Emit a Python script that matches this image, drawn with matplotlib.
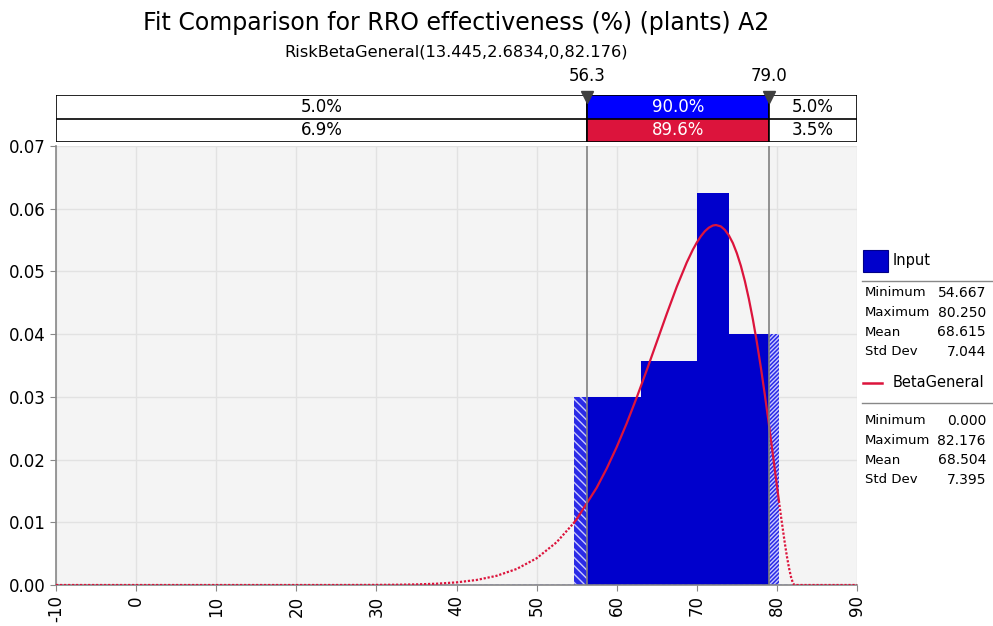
import matplotlib.pyplot as plt
import numpy as np

# histogram of the input (equal-probability bins, density)
bin_edges = [54.667, 63.0, 70.0, 74.0, 80.25]
bin_density = [0.030, 0.0357, 0.0625, 0.040]

# fitted BetaGeneral density
fit_x = [-10, 0, 10, 20, 25, 30, 32.5, 35, 37.5, 40, 42.5, 45, 47.5, 50, 52.5,
         54.667, 55, 57.5, 58.75, 60, 61.25, 62.5, 63.75, 65, 66.25, 67.5, 68.75,
         69.5, 70, 70.5, 71, 71.5, 72, 72.4, 73, 73.5, 74, 74.5, 75, 75.5,
         76, 76.5, 77, 77.5, 78, 78.5, 79, 79.5, 80, 80.25, 80.5, 81, 81.25,
         81.5, 81.75, 82, 82.176, 90]
fit_pdf = [0, 0, 0, 0, 0.000002, 0.000017, 0.000042, 0.000096, 0.000206, 0.000418,
           0.000801, 0.001464, 0.00255, 0.004257, 0.006819,
           0.009929, 0.010493, 0.015508, 0.01857, 0.021998, 0.02579, 0.029897, 0.03425,
           0.038747, 0.04324, 0.047559, 0.05144,
           0.05345, 0.054605, 0.0556, 0.0564, 0.05697, 0.05732, 0.0574, 0.05718, 0.05663,
           0.05575, 0.05453, 0.05290, 0.0509,
           0.04847, 0.04562, 0.04236, 0.0387, 0.03466, 0.03027, 0.02562, 0.02076, 0.01585,
           0.01342, 0.01104, 0.00657, 0.00456,
           0.00279, 0.00133, 0.00031, 0, 0]

data_min, data_max = 54.667, 80.25
markers = [56.3, 79.0]
row_input = ['5.0%', '90.0%', '5.0%']
row_fit = ['6.9%', '89.6%', '3.5%']

input_stats = [('Minimum', '54.667'), ('Maximum', '80.250'), ('Mean', '68.615'), ('Std Dev', '7.044')]
fit_stats = [('Minimum', '0.000'), ('Maximum', '82.176'), ('Mean', '68.504'), ('Std Dev', '7.395')]

W, H = 993, 626
BLUE = '#0000CC'
RED = '#DC143C'


def box(l, t, r, b):
    return [l / W, 1 - b / H, (r - l) / W, (b - t) / H]


fig = plt.figure(figsize=(W / 100, H / 100), dpi=100)

# ---- main plot ----
ax = fig.add_axes(box(56, 146, 857, 585))
ax.set_facecolor('#F4F4F4')
ax.set_xlim(-10, 90)
ax.set_ylim(0, 0.07)
ax.set_xticks(np.arange(-10, 91, 10))
ax.set_yticks(np.arange(0, 0.071, 0.01))
ax.set_yticklabels([f'{v:.2f}' for v in np.arange(0, 0.071, 0.01)], fontsize=12)
ax.set_xticklabels([str(v) for v in range(-10, 91, 10)], fontsize=12, rotation=90)
ax.grid(True, color='#E2E2E2', linewidth=1)
ax.set_axisbelow(True)
for s in ['top', 'right']:
    ax.spines[s].set_visible(False)
for s in ['left', 'bottom']:
    ax.spines[s].set_color('#888888')
    ax.spines[s].set_linewidth(1.2)
ax.tick_params(colors='#888888', labelcolor='black', length=4)

lefts = np.array(bin_edges[:-1])
rights = np.array(bin_edges[1:])
dens = np.array(bin_density)

# hatched tails outside the delimiters
plt.rcParams['hatch.linewidth'] = 1.0
lo_r = np.minimum(rights, markers[0])
m = lo_r > lefts
ax.bar(lefts[m], dens[m], width=lo_r[m] - lefts[m], align='edge', facecolor='#2A2AE6',
       edgecolor='#C8C8FF', hatch='\\\\\\\\', linewidth=0, zorder=2)
hi_l = np.maximum(lefts, markers[1])
m = rights > hi_l
ax.bar(hi_l[m], dens[m], width=rights[m] - hi_l[m], align='edge', facecolor='#2A2AE6',
       edgecolor='#C8C8FF', hatch='////////', linewidth=0, zorder=2)

# solid part between the delimiters
sl = np.maximum(lefts, markers[0])
sr = np.minimum(rights, markers[1])
m = sr > sl
ax.bar(sl[m], dens[m], width=sr[m] - sl[m], align='edge', color=BLUE, linewidth=0, zorder=2)

# baseline of the input histogram
ax.plot([-10, 90], [0, 0], color=BLUE, lw=0.8, ls=(0, (3, 2)), zorder=3)

# fitted curve: solid inside data range, dotted outside
fx = np.array(fit_x)
fy = np.array(fit_pdf)
inside = (fx >= data_min) & (fx <= data_max)
ax.plot(fx[fx <= data_min], fy[fx <= data_min], color=RED, lw=1.6, ls=(0, (1, 0.8)), zorder=4)
ax.plot(fx[fx >= data_max], fy[fx >= data_max], color=RED, lw=1.6, ls=(0, (1, 0.8)), zorder=4)
ax.plot(fx[inside], fy[inside], color=RED, lw=1.6, zorder=4)

for mk in markers:
    ax.axvline(mk, color='#808080', lw=1.2, zorder=5)

# ---- delimiter bars ----
tb = fig.add_axes(box(56, 95, 857, 142))
tb.set_xlim(-10, 90)
tb.set_ylim(0, 2)
tb.axis('off')
segs = [(-10, markers[0]), (markers[0], markers[1]), (markers[1], 90)]
for row, (labels, mid_color) in enumerate([(row_fit, RED), (row_input, '#0000FF')]):
    for i, (a, b) in enumerate(segs):
        fc = mid_color if i == 1 else 'white'
        tb.add_patch(plt.Rectangle((a, row), b - a, 1, facecolor=fc, edgecolor='black', lw=1.2))
        tb.text((a + b) / 2, row + 0.5, labels[i], ha='center', va='center', fontsize=12,
                color='white' if i == 1 else 'black')
for mk in markers:
    fig.text((56 + (mk + 10) * 8.01) / W, 1 - 76 / H, f'{mk:.1f}', ha='center', va='center', fontsize=12)
tb.plot(markers, [1.93, 1.93], 'v', color='#404040', markersize=9, clip_on=False)

# ---- title ----
fig.text(456 / W, 1 - 23 / H, 'Fit Comparison for RRO effectiveness (%) (plants) A2',
         ha='center', va='center', fontsize=17)
fig.text(456 / W, 1 - 52 / H, 'RiskBetaGeneral(13.445,2.6834,0,82.176)',
         ha='center', va='center', fontsize=11.7)

# ---- legend panel ----
lg = fig.add_axes(box(857, 240, 993, 490))
lg.set_xlim(857, 993)
lg.set_ylim(490, 240)
lg.axis('off')
lg.add_patch(plt.Rectangle((863, 250), 25, 22, facecolor=BLUE, edgecolor='#000088', lw=0.8))
lg.text(893, 261, 'Input', va='center', fontsize=10.5)
lg.plot([862, 993], [281, 281], color='#888888', lw=1)
for k, (name, val) in enumerate(input_stats):
    y = 293 + k * 19.6
    lg.text(865, y, name, va='center', fontsize=9.5)
    lg.text(986, y, val, va='center', ha='right', fontsize=10)
lg.plot([863, 882], [383, 383], color=RED, lw=1.8)
lg.text(893, 383, 'BetaGeneral', va='center', fontsize=10.5)
lg.plot([862, 993], [403, 403], color='#888888', lw=1)
for k, (name, val) in enumerate(fit_stats):
    y = 421 + k * 19.6
    lg.text(865, y, name, va='center', fontsize=9.5)
    lg.text(986, y, val, va='center', ha='right', fontsize=10)

fig.savefig('out.png', dpi=100)
